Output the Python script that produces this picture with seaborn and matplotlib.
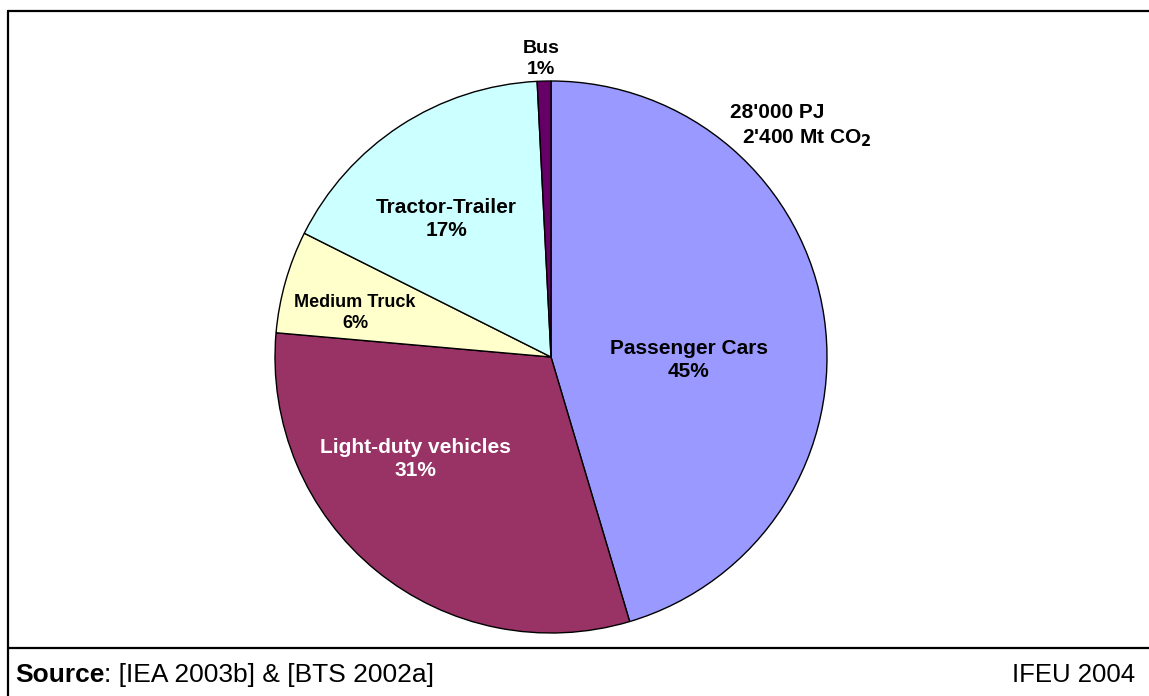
import numpy as np
import matplotlib
matplotlib.use('Agg')
import matplotlib.pyplot as plt
import seaborn as sns
from matplotlib.lines import Line2D

sns.set_theme(style="white")
plt.rcParams['font.family'] = ['Liberation Sans', 'DejaVu Sans']
plt.rcParams['text.color'] = 'black'

# Datos (cuota de energía por modo)
categorias = ['Passenger Cars', 'Light-duty vehicles', 'Medium Truck', 'Tractor-Trailer', 'Bus']
valores = [45.4, 31.0, 6.0, 16.8, 0.8]
porcentajes = ['45%', '31%', '6%', '17%', '1%']
colores = ['#9999FF', '#993366', '#FFFFCC', '#CCFFFF', '#660066']

W, H = 1149, 696
fig = plt.figure(figsize=(W / 100, H / 100), dpi=100)
cx, cy, r = 551, 357, 276
ax = fig.add_axes([(cx - r) / W, (H - cy - r) / H, 2 * r / W, 2 * r / H])

wedges, _ = ax.pie(valores, colors=colores, startangle=90, counterclock=False,
                   wedgeprops=dict(edgecolor='black', linewidth=1.0))
ax.set_xlim(-1, 1)
ax.set_ylim(-1, 1)
ax.axis('off')

# posiciones de etiquetas
pos_etq = [(0.50, -0.01), (-0.49, -0.37), (-0.71, 0.16), (-0.38, 0.50), (-0.036, 1.08)]
tamanos = [15, 15, 13, 15, 14]
color_txt = ['black', 'white', 'black', 'black', 'black']
for nombre, pct, (x, y), fs, c in zip(categorias, porcentajes, pos_etq, tamanos, color_txt):
    ax.text(x, y, f"{nombre}\n{pct}", ha='center', va='center', fontsize=fs,
            fontweight='bold', color=c, linespacing=1.3)

# anotación total
fig.text(730 / W, 1 - 112 / H, "28'000 PJ", fontsize=15, fontweight='bold', va='center')
fig.text(742 / W, 1 - 138 / H, "2'400 Mt CO$_\\mathbf{2}$", fontsize=15, fontweight='bold', va='center')

# marco
lw = 1.6
fig.add_artist(Line2D([8 / W, 1], [1 - 11 / H, 1 - 11 / H], color='black', lw=lw))
fig.add_artist(Line2D([8 / W, 8 / W], [0, 1 - 11 / H], color='black', lw=lw))
fig.add_artist(Line2D([8 / W, 1], [1 - 648 / H, 1 - 648 / H], color='black', lw=lw))

# fuente
t = fig.text(15 / W, 1 - 675 / H, "Source", fontsize=19, fontweight='bold', va='center')
fig.canvas.draw()
bb = t.get_window_extent()
fig.text(bb.x1 / W, 1 - 675 / H, ": [IEA 2003b] & [BTS 2002a]", fontsize=19, va='center')
fig.text(1135 / W, 1 - 675 / H, "IFEU 2004", fontsize=18.5, ha='right', va='center')

fig.savefig('out.png', dpi=100, facecolor='white')
